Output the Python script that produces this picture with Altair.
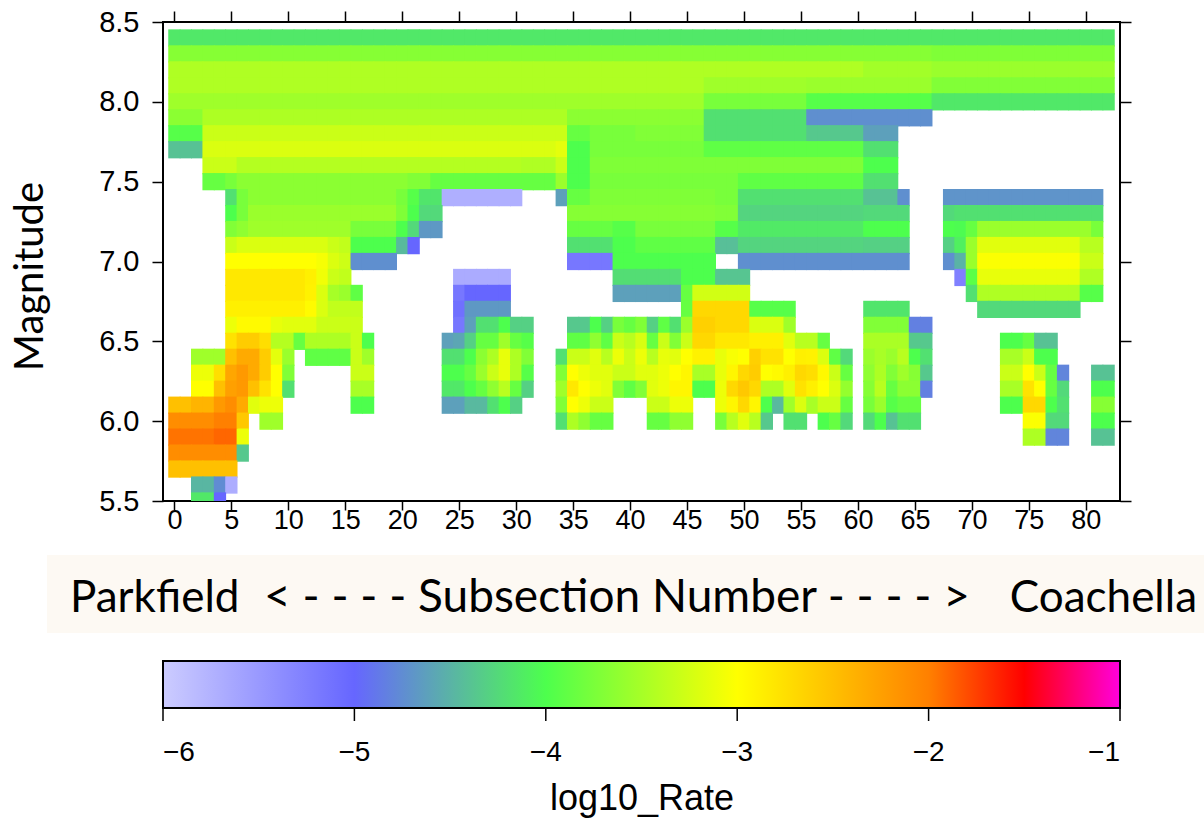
import altair as alt
import pandas as pd

# ---------------- data: log10 rate per (magnitude row, subsection range) ----------------
# each entry: (first_subsection, last_subsection, log10_rate)
m84 = [(0, 82, -4.15)]
m83 = [(0, 66, -3.68), (67, 82, -3.72)]
m82 = [(0, 60, -3.45), (61, 66, -3.52), (67, 82, -3.57)]
m81 = [(0, 46, -3.45), (47, 55, -3.54), (56, 66, -3.57), (67, 82, -3.71)]
m80 = [(0, 46, -3.54), (47, 55, -3.76), (56, 66, -3.95), (67, 82, -4.15)]
m79 = [(0, 2, -3.65), (3, 34, -3.46), (35, 46, -3.65), (47, 55, -4.2), (56, 66, -4.73)]
m78 = [(0, 2, -3.95), (3, 34, -3.3), (35, 36, -3.86), (37, 40, -3.76), (41, 46, -3.71),
       (47, 55, -4.2), (56, 60, -4.36), (61, 63, -4.62)]
m77 = [(0, 2, -4.4), (3, 33, -3.21), (34, 34, -3.15), (35, 36, -4.0), (37, 46, -3.76),
       (47, 60, -3.9), (61, 63, -4.2)]
m76 = [(3, 5, -3.3), (6, 30, -3.42), (31, 33, -3.45), (34, 34, -3.3), (35, 36, -4.0),
       (37, 60, -3.72), (61, 63, -4.0)]
m75 = [(3, 4, -3.86), (5, 5, -3.76), (6, 20, -3.65), (21, 22, -3.71), (23, 33, -3.86),
       (34, 34, -3.57), (35, 36, -4.0), (37, 49, -3.76), (50, 60, -3.9), (61, 63, -4.2)]
m74 = [(5, 5, -4.2), (6, 6, -3.76), (7, 19, -3.65), (20, 20, -3.76), (21, 21, -3.95),
       (22, 23, -4.17), (24, 30, -5.72), (34, 34, -4.62), (35, 36, -3.86), (37, 47, -3.72),
       (48, 49, -3.76), (50, 60, -4.2), (61, 63, -4.4), (64, 64, -4.73), (68, 81, -4.7)]
m73 = [(5, 5, -4.0), (6, 6, -3.76), (7, 19, -3.57), (20, 20, -3.72), (21, 21, -4.0),
       (22, 23, -4.25), (35, 47, -3.68), (48, 49, -3.71), (50, 60, -4.28), (61, 64, -4.25),
       (68, 68, -4.25), (69, 81, -4.2)]
m72 = [(5, 5, -3.71), (6, 6, -3.63), (7, 15, -3.54), (16, 19, -3.76), (20, 20, -4.0),
       (21, 21, -4.25), (22, 23, -4.67), (35, 38, -3.86), (39, 40, -3.95), (41, 47, -3.76),
       (48, 49, -3.95), (50, 60, -4.14), (61, 64, -4.0), (68, 68, -4.0), (69, 69, -4.02),
       (70, 70, -3.86), (71, 80, -3.57), (81, 81, -3.76)]
m71 = [(5, 5, -3.3), (6, 13, -3.21), (14, 14, -3.3), (15, 15, -3.35), (16, 19, -4.0),
       (20, 20, -4.45), (21, 21, -5.0), (35, 38, -4.2), (39, 40, -4.0), (41, 47, -3.9),
       (48, 49, -4.42), (50, 60, -4.28), (61, 64, -4.31), (68, 68, -4.31), (69, 69, -4.1),
       (70, 70, -3.57), (71, 79, -3.17), (80, 81, -3.4)]
m70 = [(5, 12, -3.0), (13, 13, -3.05), (14, 14, -3.2), (15, 15, -3.28), (16, 19, -4.73),
       (35, 38, -5.17), (39, 47, -4.0), (50, 64, -4.73), (68, 68, -4.73), (69, 69, -4.5),
       (70, 70, -3.57), (71, 79, -3.02), (80, 81, -3.3)]
m69 = [(5, 11, -2.82), (12, 12, -2.88), (13, 13, -3.08), (14, 14, -3.3), (15, 15, -3.35),
       (25, 29, -5.68), (39, 44, -4.22), (45, 47, -4.0), (48, 50, -4.38), (69, 69, -5.25),
       (70, 70, -3.92), (71, 79, -3.13), (80, 81, -3.45)]
m68 = [(5, 11, -2.82), (12, 12, -2.9), (13, 13, -3.2), (14, 14, -3.5), (15, 15, -3.57),
       (16, 16, -3.9), (25, 25, -5.17), (26, 29, -5.0), (39, 44, -4.62), (45, 45, -3.86),
       (46, 50, -3.26), (70, 70, -4.2), (71, 79, -3.45), (80, 81, -3.95)]
m67 = [(5, 11, -2.88), (12, 12, -2.97), (13, 13, -3.21), (14, 16, -3.35), (25, 25, -5.1),
       (26, 29, -4.67), (45, 45, -3.86), (46, 50, -2.69), (51, 54, -3.95), (61, 64, -4.17),
       (71, 79, -4.25)]
m66 = [(5, 5, -3.1), (6, 8, -2.96), (9, 9, -3.13), (10, 12, -3.17), (13, 16, -3.3),
       (25, 25, -5.17), (26, 26, -4.62), (27, 28, -4.2), (29, 29, -4.0), (30, 31, -4.31),
       (35, 36, -4.36), (37, 37, -4.0), (38, 38, -4.31), (39, 39, -3.76), (40, 40, -3.86),
       (41, 41, -3.72), (42, 42, -4.31), (43, 43, -3.9), (44, 44, -4.2), (45, 45, -3.57),
       (46, 47, -2.63), (48, 50, -2.69), (51, 53, -3.21), (54, 54, -3.54), (61, 64, -3.71),
       (65, 66, -4.83)]
m65 = [(5, 5, -2.77), (6, 7, -2.6), (8, 8, -2.74), (9, 10, -3.42), (11, 11, -3.86),
       (12, 15, -3.46), (16, 16, -3.3), (17, 17, -4.0), (24, 24, -4.62), (25, 25, -4.58),
       (26, 26, -4.31), (27, 28, -3.86), (29, 29, -3.54), (30, 30, -3.86), (31, 31, -3.95),
       (35, 36, -3.9), (37, 37, -3.63), (38, 38, -3.9), (39, 39, -3.3), (40, 40, -3.4),
       (41, 41, -3.22), (42, 42, -3.86), (43, 43, -3.3), (44, 44, -3.71), (45, 45, -3.3),
       (46, 47, -2.69), (48, 50, -2.82), (51, 53, -2.88), (54, 54, -3.17), (55, 56, -3.4),
       (57, 57, -3.86), (61, 64, -3.48), (65, 66, -4.36), (73, 74, -4.0), (75, 75, -3.86),
       (76, 77, -4.4)]
m64 = [(2, 4, -3.54), (5, 5, -2.5), (6, 7, -2.33), (8, 8, -2.6), (9, 9, -3.15), (10, 10, -3.57),
       (12, 15, -3.9), (16, 16, -3.3), (17, 17, -3.54), (24, 25, -4.2), (26, 26, -4.0),
       (27, 27, -3.65), (28, 28, -3.46), (29, 29, -3.13), (30, 30, -3.46), (31, 31, -3.71),
       (34, 34, -4.2), (35, 36, -3.3), (37, 37, -3.17), (38, 38, -3.4), (39, 39, -3.1),
       (40, 40, -3.3), (41, 41, -3.1), (42, 42, -3.4), (43, 43, -3.13), (44, 44, -3.17),
       (45, 45, -3.0), (46, 47, -2.9), (48, 48, -3.13), (49, 49, -3.04), (50, 50, -3.0),
       (51, 51, -2.63), (52, 53, -2.77), (54, 54, -3.0), (55, 55, -2.88), (56, 56, -2.9),
       (57, 57, -3.2), (58, 58, -3.9), (59, 59, -4.25), (61, 61, -3.57), (62, 62, -3.49),
       (63, 63, -3.57), (64, 64, -3.4), (65, 65, -4.0), (66, 66, -4.2), (73, 74, -3.49),
       (75, 75, -3.3), (76, 77, -4.0)]
m63 = [(2, 3, -3.1), (4, 4, -2.75), (5, 5, -2.3), (6, 6, -2.2), (7, 7, -2.33), (8, 8, -2.6),
       (9, 9, -3.0), (10, 10, -3.71), (16, 17, -3.3), (24, 25, -4.0), (26, 26, -3.86),
       (27, 27, -3.57), (28, 28, -3.3), (29, 29, -3.13), (30, 30, -3.46), (31, 31, -3.95),
       (34, 34, -3.71), (35, 35, -3.0), (36, 36, -3.1), (37, 38, -3.17), (39, 40, -3.3),
       (41, 42, -3.17), (43, 43, -3.1), (44, 44, -3.0), (45, 45, -2.93), (46, 47, -3.49),
       (48, 48, -3.13), (49, 49, -2.93), (50, 50, -2.69), (51, 51, -2.6), (52, 52, -3.0),
       (53, 53, -2.96), (54, 54, -2.88), (55, 55, -2.69), (56, 56, -2.74), (57, 57, -2.95),
       (58, 58, -3.3), (59, 59, -3.86), (61, 61, -3.63), (62, 62, -3.46), (63, 63, -3.71),
       (64, 64, -3.54), (65, 65, -3.68), (66, 66, -4.36), (73, 74, -3.3), (75, 75, -3.0),
       (76, 76, -3.3), (77, 77, -3.86), (78, 78, -4.8), (81, 82, -4.4)]
m62 = [(2, 3, -3.0), (4, 4, -2.5), (5, 5, -2.25), (6, 6, -2.2), (7, 7, -2.5), (8, 8, -2.77),
       (9, 9, -3.0), (10, 10, -4.2), (16, 17, -3.49), (24, 25, -4.15), (26, 26, -4.0),
       (27, 27, -3.86), (28, 28, -3.63), (29, 29, -3.4), (30, 30, -3.86), (31, 31, -4.31),
       (34, 34, -3.54), (35, 35, -2.82), (36, 36, -3.0), (37, 37, -3.1), (38, 38, -3.17),
       (39, 39, -3.71), (40, 40, -3.9), (41, 41, -3.71), (42, 42, -3.17), (43, 43, -3.1),
       (44, 45, -2.93), (46, 47, -4.0), (48, 48, -3.1), (49, 49, -2.69), (50, 50, -2.57),
       (51, 51, -2.69), (52, 53, -3.46), (54, 54, -3.17), (55, 55, -2.77), (56, 56, -2.88),
       (57, 57, -3.0), (58, 58, -3.2), (59, 59, -3.6), (61, 61, -3.68), (62, 62, -3.4),
       (63, 63, -3.86), (64, 65, -3.65), (66, 66, -4.83), (73, 74, -3.49), (75, 75, -2.77),
       (76, 76, -3.0), (77, 77, -3.86), (78, 78, -4.25), (81, 82, -4.0)]
m61 = [(0, 1, -2.5), (2, 3, -2.41), (4, 4, -2.2), (5, 5, -2.1), (6, 6, -2.33), (7, 7, -3.17),
       (8, 9, -3.1), (16, 17, -4.0), (24, 25, -4.62), (26, 27, -4.46), (28, 28, -4.2),
       (29, 29, -4.0), (30, 30, -4.31), (34, 34, -3.71), (35, 35, -3.0), (36, 36, -3.1),
       (37, 38, -3.3), (42, 43, -3.3), (44, 45, -3.1), (48, 48, -3.1), (49, 49, -2.93),
       (50, 50, -2.69), (51, 51, -2.93), (52, 52, -4.0), (53, 53, -4.46), (54, 54, -3.54),
       (55, 55, -3.21), (56, 56, -3.49), (57, 58, -3.3), (59, 59, -3.86), (61, 61, -3.76),
       (62, 62, -3.57), (63, 63, -3.95), (64, 65, -3.86), (73, 74, -4.0), (75, 76, -2.69),
       (77, 77, -4.0), (78, 78, -4.2), (81, 82, -3.68)]
m60 = [(0, 3, -2.1), (4, 5, -2.0), (6, 6, -2.57), (8, 9, -3.54), (34, 34, -4.2), (35, 35, -3.46),
       (36, 36, -3.63), (37, 38, -3.86), (42, 43, -3.86), (44, 45, -3.63), (48, 48, -3.76),
       (49, 49, -3.4), (50, 50, -3.17), (51, 51, -3.4), (52, 52, -4.36), (54, 55, -4.2),
       (57, 57, -4.0), (58, 58, -3.86), (59, 59, -4.25), (61, 61, -4.25), (62, 62, -4.0),
       (63, 63, -4.4), (64, 65, -4.2), (75, 76, -3.02), (77, 78, -4.25), (81, 82, -4.0)]
m59 = [(0, 3, -1.95), (4, 5, -1.9), (6, 6, -3.1), (75, 76, -3.46), (77, 78, -4.8), (81, 82, -4.4)]
m58 = [(0, 5, -2.1), (6, 6, -4.36)]
m57 = [(0, 5, -2.5)]
m56 = [(2, 3, -4.48), (4, 4, -4.75), (5, 5, -5.7)]
m55 = [(2, 3, -4.15), (4, 4, -5.0)]

magnitudes = [8.4, 8.3, 8.2, 8.1, 8.0, 7.9, 7.8, 7.7, 7.6, 7.5, 7.4, 7.3, 7.2, 7.1, 7.0,
              6.9, 6.8, 6.7, 6.6, 6.5, 6.4, 6.3, 6.2, 6.1, 6.0, 5.9, 5.8, 5.7, 5.6, 5.5]
rows = [m84, m83, m82, m81, m80, m79, m78, m77, m76, m75, m74, m73, m72, m71, m70,
        m69, m68, m67, m66, m65, m64, m63, m62, m61, m60, m59, m58, m57, m56, m55]

x_ticks = [0, 5, 10, 15, 20, 25, 30, 35, 40, 45, 50, 55, 60, 65, 70, 75, 80]
y_ticks = [5.5, 6.0, 6.5, 7.0, 7.5, 8.0, 8.5]
cb_ticks = [-6, -5, -4, -3, -2, -1]
cb_domain = [-6, -5, -4, -3, -2, -1.5, -1]
cb_colors = ["#ccccff", "#6666ff", "#4dff4d", "#ffff00", "#ff8000", "#ff0000", "#ff00dd"]
title_parts = ["Parkfield", "< - - - - Subsection Number - - - - >", "Coachella"]

# half cell sizes (a touch over 0.5 / 0.05 so that neighbouring cells overlap: no seams)
HALF_W = 0.54
HALF_H = 0.054

records = []
for mag, segs in zip(magnitudes, rows):
    for a, b, v in segs:
        for s in range(a, b + 1):
            records.append({"sub": s, "mag": mag, "rate": v,
                            "x0": s - HALF_W, "x1": s + HALF_W,
                            "y0": round(mag - HALF_H, 4), "y1": round(mag + HALF_H, 4)})
df = pd.DataFrame(records)

LABEL_FONT = "Liberation Sans"
HUMANIST = "Lato"

xs = alt.Scale(domain=[-1, 83], nice=False, zero=False)
ys = alt.Scale(domain=[5.5, 8.5], nice=False, zero=False)
cs = alt.Scale(domain=cb_domain, range=cb_colors, interpolate="rgb")

heat = alt.Chart(df).mark_rect(clip=True, strokeWidth=0).encode(
    x=alt.X("x0:Q", scale=xs, axis=alt.Axis(orient="bottom", values=x_ticks, title=None,
                                            tickSize=9, labelPadding=-3, labelFontSize=27,
                                            labelFont=LABEL_FONT)),
    x2="x1:Q",
    y=alt.Y("y0:Q", scale=ys, axis=alt.Axis(orient="left", values=y_ticks, format=".1f",
                                            title="Magnitude", titleFont=HUMANIST,
                                            titleFontSize=40, titleFontWeight="normal",
                                            titleX=-121, titleY=254, titleAngle=-90,
                                            titleBaseline="alphabetic", titleAlign="center",
                                            tickSize=11, labelPadding=13,
                                            labelFontSize=29, labelFont=LABEL_FONT)),
    y2="y1:Q",
    color=alt.Color("rate:Q", scale=cs, legend=alt.Legend(
        type="gradient",
        orient="none", legendX=0, legendY=639, direction="horizontal",
        gradientLength=957, gradientThickness=47, gradientStrokeColor="black",
        gradientStrokeWidth=2, values=cb_ticks, format="d", labelFont=LABEL_FONT,
        labelFontSize=28, labelOffset=31, labelAlign="center", labelColor="black",
        labelOverlap=False,
        title="log10_Rate", titleOrient="bottom", titleAnchor="middle", titleFont=LABEL_FONT,
        titleFontSize=36, titleFontWeight="normal", titlePadding=15, titleColor="black",
        titleLimit=900)),
)

frame_axes = alt.Chart(df).mark_point(opacity=0, size=1).encode(
    x=alt.X("x0:Q", scale=xs, axis=alt.Axis(orient="top", values=x_ticks, labels=False,
                                            title=None, tickSize=11)),
    y=alt.Y("y0:Q", scale=ys, axis=alt.Axis(orient="right", values=y_ticks, labels=False,
                                            title=None, tickSize=11)),
)

cb_tick_df = pd.DataFrame({"v": cb_ticks})
cb_rules = alt.Chart(cb_tick_df).transform_calculate(
    xpos="-1 + (datum.v + 6) * 84 / 5"
).mark_rule(color="black", strokeWidth=1.5).encode(
    x=alt.X("xpos:Q", scale=xs, axis=None),
    y=alt.value(687),
    y2=alt.value(699),
)

box = alt.Chart(pd.DataFrame({"a": [0]})).mark_rect(color="#fdf9f3").encode(
    x=alt.value(-116), x2=alt.value(1041), y=alt.value(533), y2=alt.value(611),
)

tdf = pd.DataFrame({"t": title_parts})
t_left = alt.Chart(tdf.iloc[[0]]).mark_text(font=HUMANIST, fontSize=44, align="left",
                                            baseline="alphabetic", color="black").encode(
    x=alt.value(-93), y=alt.value(590), text="t:N")
t_mid = alt.Chart(tdf.iloc[[1]]).mark_text(font=HUMANIST, fontSize=46, align="center",
                                           baseline="alphabetic", color="black").encode(
    x=alt.value(454), y=alt.value(590), text="t:N")
t_right = alt.Chart(tdf.iloc[[2]]).mark_text(font=HUMANIST, fontSize=44, align="right",
                                             baseline="alphabetic", color="black").encode(
    x=alt.value(1034), y=alt.value(590), text="t:N")

chart = alt.layer(box, heat, frame_axes, cb_rules, t_left, t_mid, t_right).resolve_axis(
    x="independent", y="independent"
).properties(
    width=957, height=479,
    autosize=alt.AutoSizeParams(type="none"),
    padding={"left": 163, "top": 22, "right": 84, "bottom": 326},
    background="white",
).configure_view(
    stroke="black", strokeWidth=2
).configure_axis(
    domain=False, grid=False, tickColor="black", tickWidth=1.5, labelColor="black",
    titleColor="black",
)

chart.save("out.html", embed_options={"renderer": "svg", "actions": False})
